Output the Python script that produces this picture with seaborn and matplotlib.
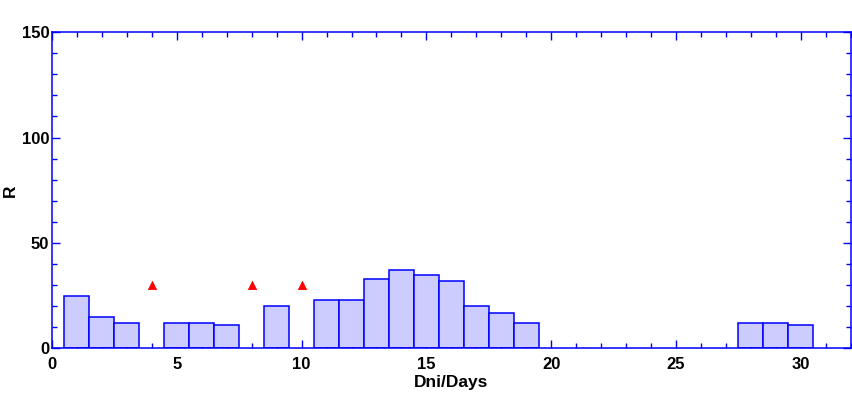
import matplotlib
matplotlib.use("Agg")
import matplotlib.pyplot as plt
from matplotlib.ticker import MultipleLocator
import seaborn as sns

# data
days = [1, 2, 3, 5, 6, 7, 9, 11, 12, 13, 14, 15, 16, 17, 18, 19, 28, 29, 30]
r_values = [25, 15, 12, 12, 12, 11, 20, 23, 23, 33, 37, 35, 32, 20, 17, 12, 12, 12, 11]
marker_days = [4, 8, 10]
marker_r = [30, 30, 30]

sns.set_style("ticks")
plt.rcParams['font.family'] = ['Liberation Sans', 'DejaVu Sans']
plt.rcParams['font.weight'] = 'bold'
plt.rcParams['text.color'] = 'black'
plt.rcParams['axes.labelcolor'] = 'black'

fig = plt.figure(figsize=(8.52, 3.94), dpi=100)
ax = fig.add_axes([0.061, 0.1155, 0.9375, 0.803])

sns.barplot(x=days, y=r_values, native_scale=True, width=1, color='#CCCCFF',
            saturation=1, edgecolor='#0000FF', linewidth=1.1, ax=ax)
sns.scatterplot(x=marker_days, y=marker_r, marker='^', color='#FF0000',
                edgecolor='#FF0000', s=36, linewidth=0.5, ax=ax, zorder=5)

ax.set_xlim(0, 32)
ax.set_ylim(0, 150)
ax.xaxis.set_major_locator(MultipleLocator(5))
ax.xaxis.set_minor_locator(MultipleLocator(1))
ax.yaxis.set_major_locator(MultipleLocator(50))
ax.yaxis.set_minor_locator(MultipleLocator(10))
ax.tick_params(which='both', direction='in', color='#0000FF', labelcolor='black',
               top=True, right=True, labelsize=12, width=1)
ax.tick_params(which='major', length=6)
ax.tick_params(which='minor', length=3.6)
ax.tick_params(axis='x', pad=6)
ax.tick_params(axis='y', pad=2)
for lab in ax.get_xticklabels() + ax.get_yticklabels():
    lab.set_fontweight('bold')
for sp in ax.spines.values():
    sp.set_visible(True)
    sp.set_color('#0000FF')
    sp.set_linewidth(1.1)

ax.set_xlabel('Dni/Days', fontsize=12.5, fontweight='bold', labelpad=2, color='black')
ax.set_ylabel('R', fontsize=12.5, fontweight='bold', color='black')
ax.yaxis.set_label_coords(-0.043, 0.5)

fig.savefig('out.png', dpi=100)
